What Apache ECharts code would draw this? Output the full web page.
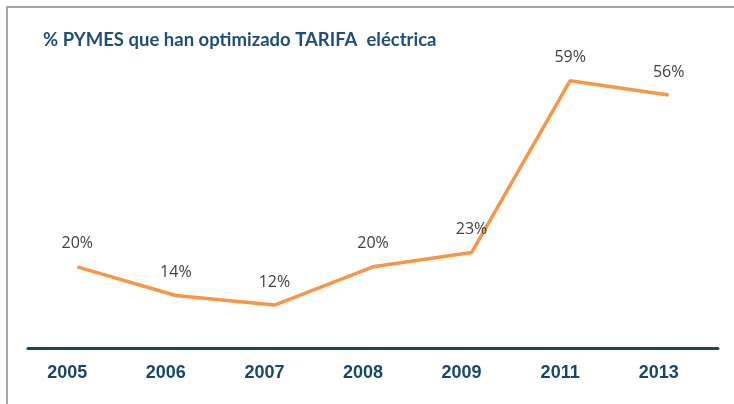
<!DOCTYPE html>
<html>
<head>
<meta charset="utf-8">
<script src="https://cdn.jsdelivr.net/npm/echarts@6/dist/echarts.min.js"></script>
<style>
  body { margin: 0; background: #fff; }
  #wrap { position: relative; width: 734px; height: 404px; }
  #chart { width: 734px; height: 404px; }
  #frame {
    position: absolute; left: 6px; top: 6px; width: 728px; height: 398px;
    border-top: 2px solid #a6a6a6; border-left: 2px solid #a6a6a6;
    box-sizing: border-box; pointer-events: none;
  }
</style>
</head>
<body>
<div id="wrap">
  <div id="chart"></div>
  <div id="frame"></div>
</div>
<script>
var years = ['2005', '2006', '2007', '2008', '2009', '2011', '2013'];
var pymes = [20, 14, 12, 20, 23, 59, 56];
var titleText = '% PYMES que han optimizado TARIFA  eléctrica';

var myChart = echarts.init(document.getElementById('chart'));

var option = {
  backgroundColor: '#fff',
  animation: false,
  title: {
    text: titleText,
    left: 38,
    top: 26,
    textStyle: {
      fontFamily: 'Lato',
      fontWeight: 'bold',
      fontSize: 18.5,
      color: '#1f4e79'
    }
  },
  grid: { left: 28, right: 16, top: 52, bottom: 56 },
  xAxis: {
    type: 'category',
    data: years,
    boundaryGap: true,
    axisLine: { lineStyle: { color: '#17476b', width: 3 } },
    axisTick: { show: false },
    axisLabel: {
      margin: 16,
      padding: [0, 20, 0, 0],
      fontFamily: 'Liberation Sans Narrow, Arial Narrow, Liberation Sans',
      fontWeight: 'bold',
      fontSize: 18,
      color: '#17476b'
    }
  },
  yAxis: {
    type: 'value',
    min: 3,
    max: 65,
    show: false,
    splitLine: { show: false }
  },
  series: [{
    name: 'PYMES',
    type: 'line',
    data: pymes,
    symbol: 'circle',
    symbolSize: 2,
    itemStyle: { color: 'transparent', borderWidth: 0 },
    lineStyle: { color: '#f79646', width: 3.5 },
    label: {
      show: true,
      position: 'top',
      distance: 14,
      formatter: '{c}%',
      fontFamily: 'Open Sans',
      fontSize: 16,
      color: '#404040'
    }
  }]
};

myChart.setOption(option);
</script>
</body>
</html>
